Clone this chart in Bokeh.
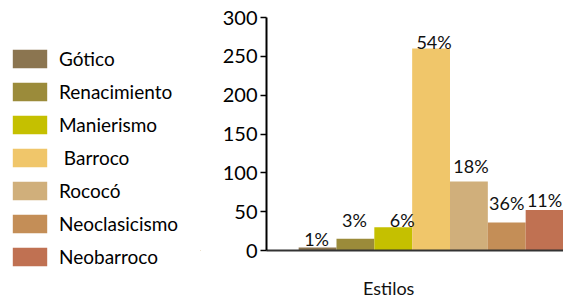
from bokeh.plotting import figure
from bokeh.layouts import row
from bokeh.models import ColumnDataSource, FixedTicker, Legend, LegendItem, LabelSet, Range1d
from bokeh.core.properties import value
from bokeh.embed import file_html
from bokeh.resources import INLINE

# ---- data ----
styles = ["Gótico", "Renacimiento", "Manierismo", "Barroco", "Rococó", "Neoclasicismo", "Neobarroco"]
legend_labels = ["Gótico", "Renacimiento", "Manierismo", " Barroco", "Rococó", "Neoclasicismo", "Neobarroco"]
values = [4, 15, 30, 260, 89, 36, 52]
pct_labels = ["1%", "3%", "6%", "54%", "18%", "36%", "11%"]
y_ticks = [0, 50, 100, 150, 200, 250, 300]
x_title = "Estilos"

# ---- styles ----
colors = ["#8B7550", "#9B8B3A", "#C5C000", "#F0C66A", "#D0AF7B", "#C48E57", "#C07152"]
label_dx = [-1, -1, 9, 3, 2, 0, 0]
label_dy = [1, 12, 0, 0, 8, 13, 3]
FONT = "Lato"
TOTAL_W, TOTAL_H = 563, 301
LEG_W = 200
FRAME_LEFT = 266
TOP_B, BOT_B = 17, 44

positions = list(range(1, len(styles) + 1))
src = ColumnDataSource(dict(x=positions, top=values, color=colors, style=styles,
                            pct=pct_labels, dx=label_dx, dy=label_dy))

# ---- chart ----
p = figure(width=TOTAL_W - LEG_W, height=TOTAL_H, output_backend="svg", toolbar_location=None,
           x_range=Range1d(-0.35, 7.5), y_range=Range1d(0, 300),
           min_border_left=FRAME_LEFT - LEG_W, min_border_right=0,
           min_border_top=TOP_B, min_border_bottom=BOT_B)
p.outline_line_color = None
p.grid.visible = False

r = p.vbar(x="x", top="top", width=1.0, fill_color="color", line_color=None, source=src)

labels = LabelSet(x="x", y="top", text="pct", source=src, x_offset="dx", y_offset="dy",
                  text_align="center", text_baseline="alphabetic",
                  text_font=value(FONT), text_font_size=value("18px"), text_color="#111111")
p.add_layout(labels)

p.yaxis.ticker = FixedTicker(ticks=y_ticks)
p.yaxis.axis_line_color = "black"
p.yaxis.axis_line_width = 2
p.yaxis.major_tick_out = 6
p.yaxis.major_tick_in = 0
p.yaxis.major_tick_line_color = "black"
p.yaxis.major_tick_line_width = 1.5
p.yaxis.minor_tick_line_color = None
p.yaxis.major_label_text_font = FONT
p.yaxis.major_label_text_font_size = "20px"
p.yaxis.major_label_text_color = "black"
p.yaxis.major_label_standoff = 3

title_pos = 2.88
p.xaxis.ticker = FixedTicker(ticks=[title_pos])
p.xaxis.major_label_overrides = {title_pos: x_title}
p.xaxis.axis_line_color = "#333333"
p.xaxis.axis_line_width = 2
p.xaxis.major_tick_line_color = None
p.xaxis.minor_tick_line_color = None
p.xaxis.major_label_standoff = 20
p.xaxis.major_label_text_font = FONT
p.xaxis.major_label_text_font_size = "18px"
p.xaxis.major_label_text_color = "#111111"

# ---- legend panel ----
lp = figure(width=LEG_W, height=TOTAL_H, output_backend="svg", toolbar_location=None,
            x_range=Range1d(100, 101), y_range=Range1d(1000, 1001),
            x_axis_type=None, y_axis_type=None,
            min_border_left=0, min_border_right=0, min_border_top=TOP_B, min_border_bottom=BOT_B)
lp.outline_line_color = None
lp.grid.visible = False
lr = lp.vbar(x="x", top="top", width=1.0, fill_color="color", line_color=None, source=src)

items = [LegendItem(label=lab, renderers=[lr], index=i) for i, lab in enumerate(legend_labels)]
legend = Legend(items=items, location=(8, -18), orientation="vertical",
                border_line_color=None, background_fill_alpha=0, padding=0, margin=0,
                label_standoff=8, glyph_width=43, glyph_height=23, label_height=23,
                spacing=10, label_text_font=FONT, label_text_font_size="19px",
                label_text_color="black")
lp.add_layout(legend, "left")

layout = row(lp, p, spacing=0)
open("out.html", "w").write(file_html(layout, INLINE))
